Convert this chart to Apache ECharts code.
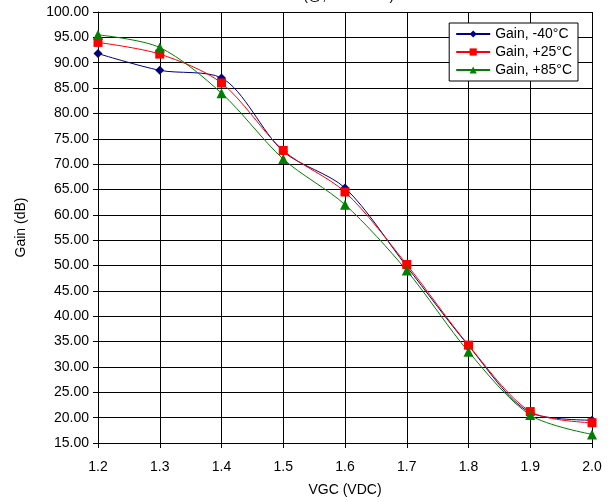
<!DOCTYPE html>
<html><head><meta charset="utf-8">
<script src="https://cdn.jsdelivr.net/npm/echarts@6/dist/echarts.min.js"></script>
<style>html,body{margin:0;padding:0;background:#fff}#c{width:608px;height:502px}</style>
</head><body><div id="c"></div>
<script>
const vgc = [1.2, 1.3, 1.4, 1.5, 1.6, 1.7, 1.8, 1.9, 2.0];
const gainM40 = [91.8, 88.5, 87.0, 72.5, 65.3, 49.8, 34.2, 21.0, 19.5];
const gainP25 = [94.0, 91.7, 86.0, 72.7, 64.5, 50.2, 34.3, 21.2, 19.0];
const gainP85 = [95.5, 93.0, 84.0, 71.0, 62.0, 49.0, 33.0, 20.5, 16.7];
const seriesNames = ['Gain, -40°C', 'Gain, +25°C', 'Gain, +85°C'];
const titleText = 'Gain vs. VGC (@, f = 2 GHz)';

const font = 'Arial, "Liberation Sans", sans-serif';
const pair = arr => vgc.map((x, i) => [x, arr[i]]);
const chart = echarts.init(document.getElementById('c'));
function mk(name, data, color, symbol, size) {
  return {
    name, type: 'line', data: pair(data), smooth: 0.3,
    symbol, symbolSize: size, showSymbol: true,
    lineStyle: { color, width: 1 }, itemStyle: { color },
    emphasis: { disabled: true }, z: 3
  };
}
chart.setOption({
  animation: false,
  backgroundColor: '#fff',
  title: { text: titleText, left: 'center', top: -16,
    textStyle: { fontFamily: font, fontSize: 14, fontWeight: 'normal', color: '#000' } },
  grid: { left: 98, right: 16, top: 12, bottom: 59 },
  legend: {
    orient: 'vertical', right: 30, top: 23, itemGap: 4, itemWidth: 34, itemHeight: 9,
    backgroundColor: '#fff', borderColor: '#000', borderWidth: 1, padding: [4, 6, 4, 6],
    textStyle: { fontFamily: font, fontSize: 14, color: '#000' },
    data: seriesNames
  },
  xAxis: {
    type: 'value', min: 1.2, max: 2.0, interval: 0.1,
    name: 'VGC (VDC)', nameLocation: 'middle', nameGap: 40,
    nameTextStyle: { fontFamily: font, fontSize: 14, color: '#000' },
    axisLine: { show: true, lineStyle: { color: '#000' } },
    axisTick: { show: true, length: 5, lineStyle: { color: '#000' } },
    axisLabel: { fontFamily: font, fontSize: 14, color: '#000', margin: 17,
      formatter: v => v.toFixed(1) },
    splitLine: { show: true, lineStyle: { color: '#000', width: 1 } }
  },
  yAxis: {
    type: 'value', min: 15, max: 100, interval: 5,
    name: 'Gain (dB)', nameLocation: 'middle', nameGap: 70, nameRotate: 90,
    nameTextStyle: { fontFamily: font, fontSize: 14, color: '#000' },
    axisLine: { show: true, lineStyle: { color: '#000' } },
    axisTick: { show: true, length: 5, lineStyle: { color: '#000' } },
    axisLabel: { fontFamily: font, fontSize: 14, color: '#000', margin: 9,
      formatter: v => v.toFixed(2) },
    splitLine: { show: true, lineStyle: { color: '#000', width: 1 } }
  },
  series: [
    mk(seriesNames[0], gainM40, '#000080', 'diamond', 9),
    mk(seriesNames[1], gainP25, '#FF0000', 'rect', 9),
    mk(seriesNames[2], gainP85, '#008000', 'triangle', 10)
  ]
});
</script></body></html>
